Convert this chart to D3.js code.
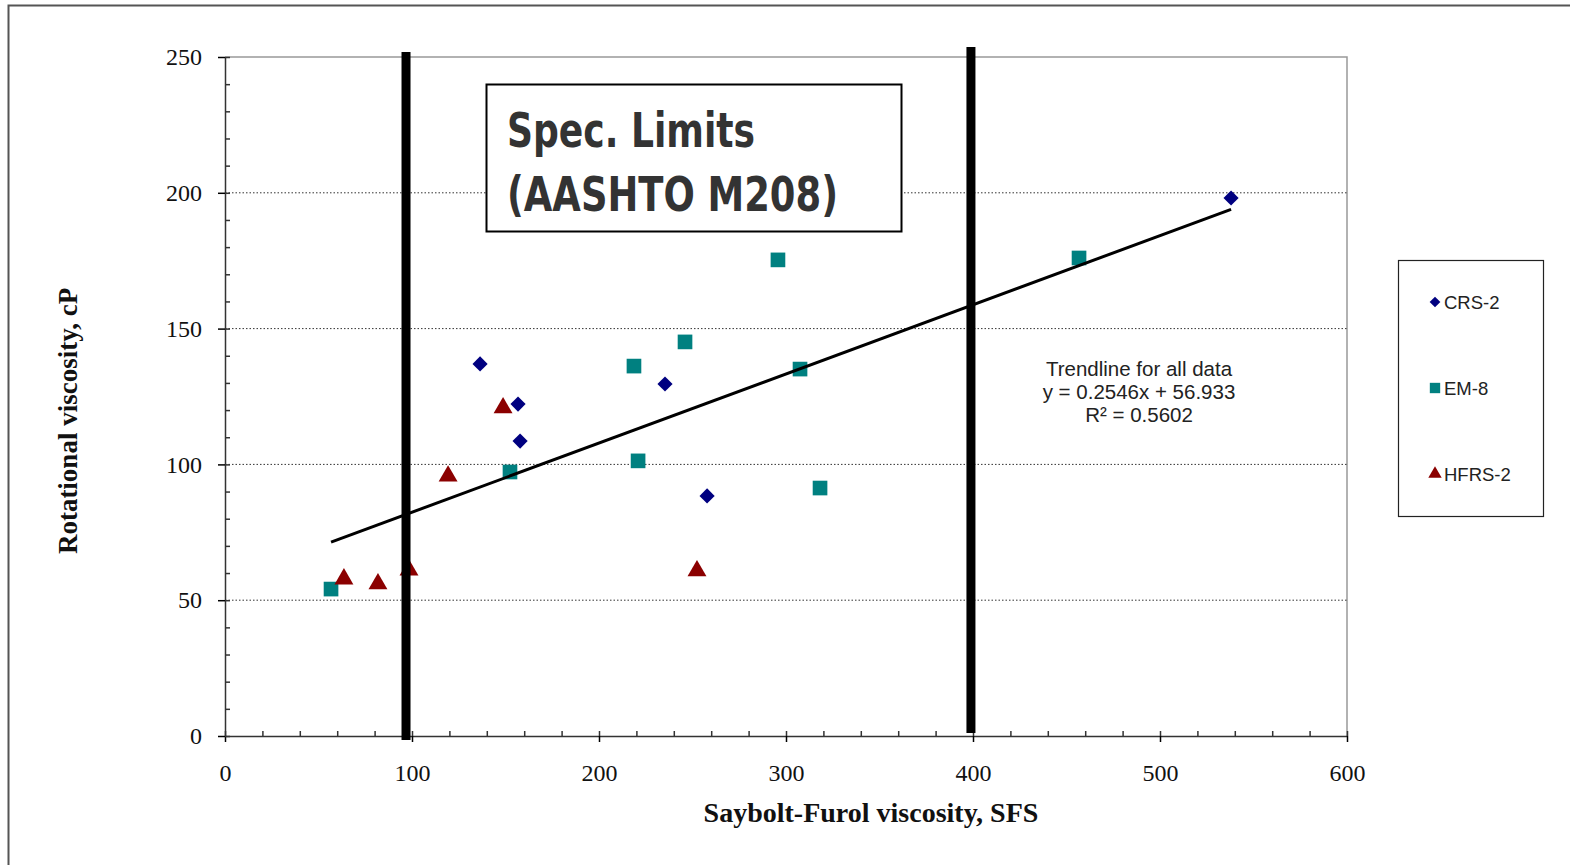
<!DOCTYPE html>
<html>
<head>
<meta charset="utf-8">
<script src="https://cdn.jsdelivr.net/npm/d3@7"></script>
<style>
  body { margin: 0; background: #fff; }
  svg { display: block; }
  .tick text { font-family: "Liberation Serif", "DejaVu Serif", serif; font-size: 24px; fill: #111; }
  .axis-title { font-family: "Liberation Serif", serif; font-weight: bold; font-size: 27px; fill: #111; }
  .legend text, .trend-note { font-family: "Liberation Sans", Arial, sans-serif; fill: #222; }
</style>
</head>
<body>
<svg id="chart" width="1570" height="865"></svg>
<script>
// data
const crsX = [136.4, 156.7, 157.8, 235.3, 257.8, 538.0];
const crsY = [137.0, 122.2, 108.6, 129.6, 88.4, 198.1];
const em8X = [56.7, 152.4, 218.7, 220.9, 246.0, 295.7, 307.5, 318.2, 456.7];
const em8Y = [54.1, 97.2, 136.2, 101.3, 145.1, 175.3, 135.1, 91.3, 176.0];
const hfrsX = [63.6, 81.8, 98.4, 119.3, 148.7, 252.4];
const hfrsY = [57.8, 56.0, 61.1, 95.7, 120.8, 60.8];
const xTicks = [0, 100, 200, 300, 400, 500, 600];
const yTicks = [0, 50, 100, 150, 200, 250];
const specLimits = [96.8, 398.9];
const trendSlope = 0.2546, trendIntercept = 56.933;
const trendText = ["Trendline for all data", "y = 0.2546x  + 56.933", "R\u00b2 = 0.5602"];

const series = [
  { name: "CRS-2", xs: crsX, ys: crsY, color: "#000080", shape: d3.symbolSquare, rot: 45, size: 115 },
  { name: "EM-8", xs: em8X, ys: em8Y, color: "#008080", shape: d3.symbolSquare, rot: 0, size: 215 },
  { name: "HFRS-2", xs: hfrsX, ys: hfrsY, color: "#8b0000", shape: d3.symbolTriangle, rot: 0, size: 155 }
];

const margin = { top: 57, left: 225 };
const width = 1122, height = 679;

const svg = d3.select("#chart");

// outer frame
svg.append("rect")
  .attr("x", 8.5).attr("y", 5.5)
  .attr("width", 1600).attr("height", 900)
  .attr("fill", "none").attr("stroke", "#555").attr("stroke-width", 2);

const g = svg.append("g").attr("transform", `translate(${margin.left},${margin.top})`);

const x = d3.scaleLinear().domain([0, 600]).range([0, width]);
const y = d3.scaleLinear().domain([0, 250]).range([height, 0]);

// plot border (top, right)
g.append("path")
  .attr("d", `M0,0H${width}V${height}`)
  .attr("fill", "none").attr("stroke", "#999").attr("stroke-width", 1.5);

// gridlines
g.selectAll(".grid")
  .data(yTicks.filter(d => d > 0 && d < 250))
  .enter().append("line")
  .attr("x1", 0).attr("x2", width)
  .attr("y1", d => y(d)).attr("y2", d => y(d))
  .attr("stroke", "#333").attr("stroke-width", 1).attr("stroke-dasharray", "1.5,2");

// axes
const xAxis = g.append("g")
  .attr("transform", `translate(0,${height})`)
  .call(d3.axisBottom(x).tickValues(d3.range(0, 601, 20)).tickSize(0).tickFormat(""));
xAxis.selectAll(".tick line").attr("y1", -5).attr("y2", 0).attr("stroke", "#333");
g.append("g")
  .attr("transform", `translate(0,${height})`)
  .call(d3.axisBottom(x).tickValues(xTicks).tickSize(6).tickPadding(22).tickFormat(d3.format("d")))
  .call(a => a.select(".domain").remove());

const yAxis = g.append("g")
  .call(d3.axisLeft(y).tickValues(d3.range(0, 251, 10)).tickSize(0).tickFormat(""));
yAxis.selectAll(".tick line").attr("x1", 0).attr("x2", 5).attr("stroke", "#333");
g.append("g")
  .call(d3.axisLeft(y).tickValues(yTicks).tickSize(7).tickPadding(16).tickFormat(d3.format("d")))
  .call(a => a.select(".domain").remove());

svg.selectAll(".domain").attr("stroke", "#333").attr("stroke-width", 1.5);
svg.selectAll(".tick line").attr("stroke-width", 1.5);

// markers
series.forEach(s => {
  g.append("g").selectAll("path")
    .data(s.xs.map((v, i) => [v, s.ys[i]]))
    .enter().append("path")
    .attr("transform", d => `translate(${x(d[0])},${y(d[1])}) rotate(${s.rot})`)
    .attr("d", d3.symbol().type(s.shape).size(s.size))
    .attr("fill", s.color);
});

// trendline over the range of all data
const allX = crsX.concat(em8X, hfrsX);
const tx = d3.extent(allX);
g.append("line")
  .attr("x1", x(tx[0])).attr("y1", y(trendSlope * tx[0] + trendIntercept))
  .attr("x2", x(tx[1])).attr("y2", y(trendSlope * tx[1] + trendIntercept))
  .attr("stroke", "#000").attr("stroke-width", 3);

// spec limit bars
g.selectAll(".spec")
  .data(specLimits)
  .enter().append("line")
  .attr("x1", d => x(d)).attr("x2", d => x(d))
  .attr("y1", (d, i) => i === 0 ? -5 : -10)
  .attr("y2", (d, i) => i === 0 ? height + 4 : height - 3)
  .attr("stroke", "#000").attr("stroke-width", 9);

// spec limits box
svg.append("rect")
  .attr("x", 486.5).attr("y", 84.5).attr("width", 415).attr("height", 147)
  .attr("fill", "#fff").attr("stroke", "#000").attr("stroke-width", 2);
const specFont = "'Liberation Sans Narrow', 'DejaVu Sans Condensed', 'Liberation Sans', Arial, sans-serif";
svg.append("text")
  .attr("x", 507).attr("y", 147)
  .attr("textLength", 248).attr("lengthAdjust", "spacingAndGlyphs")
  .style("font-family", specFont)
  .style("font-weight", "bold").style("font-size", "48px").style("fill", "#333")
  .text("Spec. Limits");
svg.append("text")
  .attr("x", 507).attr("y", 211)
  .attr("textLength", 331).attr("lengthAdjust", "spacingAndGlyphs")
  .style("font-family", specFont)
  .style("font-weight", "bold").style("font-size", "48px").style("fill", "#333")
  .text("(AASHTO M208)");

// trendline note
svg.append("text")
  .attr("class", "trend-note")
  .attr("text-anchor", "middle")
  .style("font-size", "20.5px")
  .selectAll("tspan")
  .data(trendText)
  .enter().append("tspan")
  .attr("x", 1139)
  .attr("y", (d, i) => 376 + i * 23)
  .text(d => d);

// axis titles
svg.append("text")
  .attr("class", "axis-title")
  .attr("text-anchor", "middle")
  .style("font-size", "28px")
  .attr("x", 871).attr("y", 822)
  .text("Saybolt-Furol viscosity, SFS");
svg.append("text")
  .attr("class", "axis-title")
  .attr("text-anchor", "middle")
  .attr("transform", "translate(77,421) rotate(-90)")
  .text("Rotational viscosity, cP");

// legend
const legend = svg.append("g").attr("class", "legend");
legend.append("rect")
  .attr("x", 1398.5).attr("y", 260.5).attr("width", 145).attr("height", 256)
  .attr("fill", "#fff").attr("stroke", "#222").attr("stroke-width", 1.2);
series.forEach((s, i) => {
  const ly = 302 + i * 86;
  legend.append("path")
    .attr("transform", `translate(1435,${ly}) rotate(${s.rot})`)
    .attr("d", d3.symbol().type(s.shape).size(s.size * 0.5))
    .attr("fill", s.color);
  legend.append("text")
    .attr("x", 1444).attr("y", ly + 7)
    .style("font-size", "18.5px")
    .text(s.name);
});
</script>
</body>
</html>
